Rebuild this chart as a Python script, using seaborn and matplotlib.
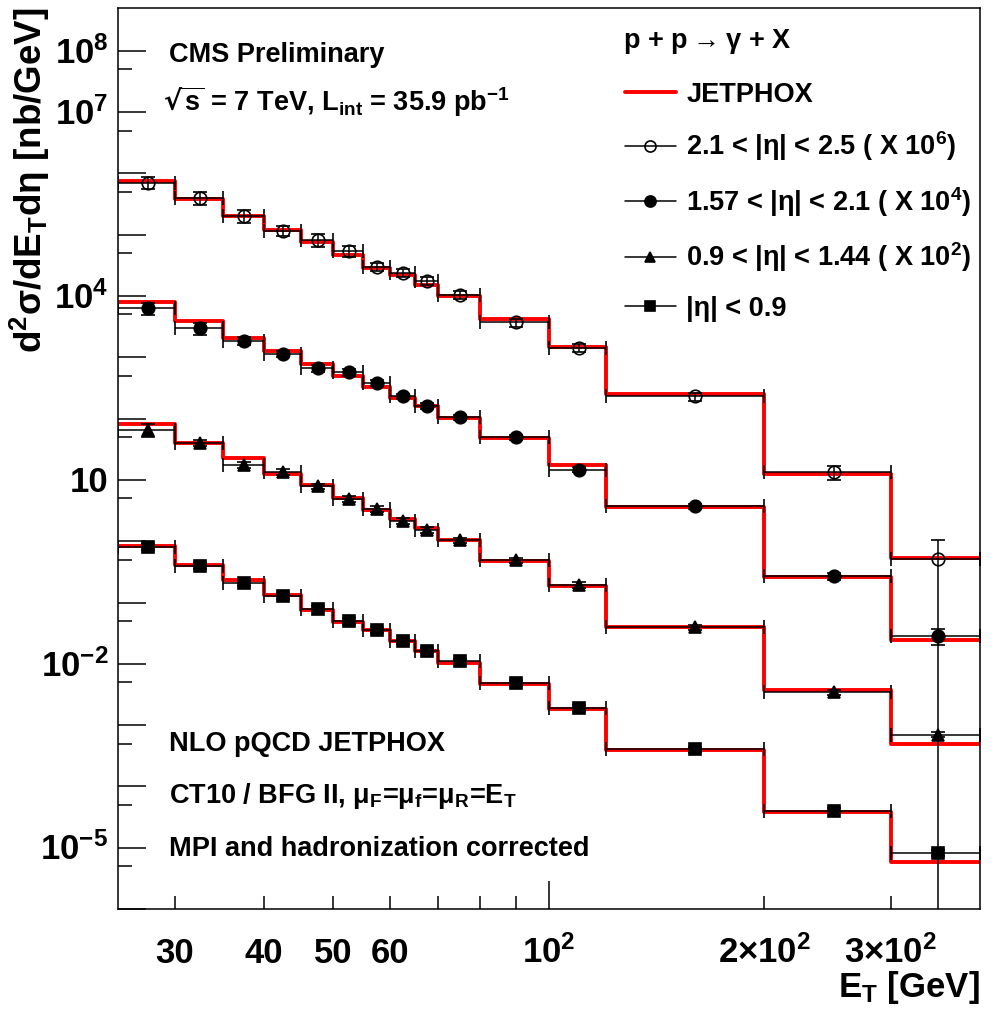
import numpy as np
import pandas as pd
import matplotlib
matplotlib.use("Agg")
import matplotlib.pyplot as plt
import matplotlib.transforms as mtransforms
from matplotlib.lines import Line2D
from matplotlib.ticker import NullFormatter
import seaborn as sns

# E_T bin edges [GeV]
et_edges = [25, 30, 35, 40, 45, 50, 55, 60, 65, 70, 80, 100, 120, 200, 300, 400]

# Measured isolated-photon cross sections d2sigma/dEt deta [nb/GeV]
xs_eta_21_25 = [0.711, 0.405, 0.204, 0.117, 0.0827, 0.0547, 0.0303, 0.0242, 0.0177,
                0.0105, 0.00371, 0.00142, 2.30e-4, 1.34e-5, 5.2e-7]
xs_eta_157_21 = [0.635, 0.300, 0.188, 0.114, 0.0667, 0.0566, 0.0380, 0.0230, 0.0162,
                 0.0106, 0.00500, 0.00147, 3.70e-4, 2.67e-5, 2.87e-6]
xs_eta_09_144 = [0.658, 0.399, 0.177, 0.137, 0.0783, 0.0488, 0.0335, 0.0216, 0.0154,
                 0.0103, 0.00486, 0.00195, 3.93e-4, 3.42e-5, 6.98e-6]
xs_eta_00_09 = [0.81, 0.398, 0.208, 0.129, 0.0793, 0.0505, 0.0351, 0.0232, 0.0164,
                0.0110, 0.00490, 0.00190, 4.07e-4, 4.02e-5, 8.2e-6]

# Relative total uncertainties of the measurement
err_eta_21_25 = [0.22, 0.25, 0.25, 0.20, 0.25, 0.20, 0.15, 0.15, 0.15, 0.15, 0.15, 0.15, 0.15, 0.25, 1.0]
err_eta_157_21 = [0.23, 0.22, 0.15, 0.12, 0.12, 0.12, 0.12, 0.10, 0.10, 0.10, 0.10, 0.10, 0.10, 0.12, 0.30]
err_eta_09_144 = [0.23, 0.12, 0.12, 0.12, 0.10, 0.10, 0.10, 0.10, 0.10, 0.10, 0.10, 0.10, 0.10, 0.10, 0.10]
err_eta_00_09 = [0.10, 0.10, 0.10, 0.10, 0.10, 0.10, 0.10, 0.10, 0.10, 0.10, 0.10, 0.10, 0.10, 0.10, 0.10]

# NLO JETPHOX predictions [nb/GeV]
nlo_eta_21_25 = [0.759, 0.380, 0.204, 0.120, 0.0759, 0.0471, 0.0292, 0.0222, 0.0152,
                 0.0101, 0.00421, 0.00147, 2.51e-4, 1.26e-5, 5.4e-7]
nlo_eta_157_21 = [0.785, 0.385, 0.206, 0.1245, 0.0776, 0.0488, 0.0327, 0.0216, 0.0159,
                  0.0102, 0.00482, 0.00177, 3.56e-4, 2.57e-5, 2.47e-6]
nlo_eta_09_144 = [0.815, 0.398, 0.228, 0.1245, 0.0813, 0.0506, 0.0327, 0.0230, 0.0164,
                  0.0103, 0.00468, 0.00188, 3.93e-4, 3.80e-5, 4.92e-6]
nlo_eta_00_09 = [0.843, 0.413, 0.236, 0.131, 0.0762, 0.0473, 0.0351, 0.0232, 0.0160,
                 0.0105, 0.00468, 0.00183, 3.89e-4, 3.80e-5, 5.75e-6]

region_labels = ["2.1 < |η| < 2.5 ( X 10$^{6}$)",
                 "1.57 < |η| < 2.1 ( X 10$^{4}$)",
                 "0.9 < |η| < 1.44 ( X 10$^{2}$)",
                 "|η| < 0.9"]
scale_factors = [1e6, 1e4, 1e2, 1.0]

ytick_values = [1e8, 1e7, 1e4, 1e1, 1e-2, 1e-5]
ytick_labels = ["10$^{8}$", "10$^{7}$", "10$^{4}$", "10", "10$^{-2}$", "10$^{-5}$"]
xtick_values = [30, 40, 50, 60, 70, 80, 90, 200, 300]
xtick_labels = ["30", "40", "50", "60", "", "", "", "2×10$^{2}$", "3×10$^{2}$"]

measured = [xs_eta_21_25, xs_eta_157_21, xs_eta_09_144, xs_eta_00_09]
uncert = [err_eta_21_25, err_eta_157_21, err_eta_09_144, err_eta_00_09]
theory = [nlo_eta_21_25, nlo_eta_157_21, nlo_eta_09_144, nlo_eta_00_09]
markers = ["o", "o", "^", "s"]
marker_faces = ["none", "black", "black", "black"]
marker_sizes = [9.0, 9.0, 8.5, 8.5]

sns.set_theme(style="ticks")
plt.rcParams.update({
    "font.family": ["Liberation Sans", "DejaVu Sans"],
    "font.weight": "bold",
    "mathtext.default": "regular",
    "text.color": "black",
    "axes.edgecolor": "black",
    "axes.linewidth": 1.1,
    "xtick.color": "black",
    "ytick.color": "black",
    "xtick.direction": "in",
    "ytick.direction": "in",
})

fig = plt.figure(figsize=(9.96, 10.09), dpi=100)
fig.patch.set_facecolor("white")
ax = fig.add_axes([118 / 996, 1 - 909 / 1009, (980 - 118) / 996, (909 - 8) / 1009])
ax.set_facecolor("white")
ax.set_xscale("log")
ax.set_yscale("log")

edges = np.asarray(et_edges, dtype=float)
centers = 0.5 * (edges[:-1] + edges[1:])

# theory histograms as step lines
rows = []
for name, scale, th in zip(region_labels, scale_factors, theory):
    vals = np.asarray(th) * scale
    steps = np.append(vals, vals[-1])
    for e, v in zip(edges, steps):
        rows.append({"region": name, "et": e, "xsec": v})
theory_df = pd.DataFrame(rows)
sns.lineplot(data=theory_df, x="et", y="xsec", units="region", estimator=None,
             color="#ff0000", lw=2.8, drawstyle="steps-post", sort=False,
             legend=False, ax=ax, zorder=2)

# measured points with bin-width and uncertainty bars
for vals, err, scale, mk, mfc, ms in zip(measured, uncert, scale_factors,
                                         markers, marker_faces, marker_sizes):
    y = np.asarray(vals) * scale
    dy = y * np.asarray(err)
    ax.errorbar(centers, y,
                xerr=[centers - edges[:-1], edges[1:] - centers],
                yerr=[dy, dy], fmt=mk, color="black", mfc=mfc, mec="black",
                mew=1.2, ms=ms, elinewidth=1.1, capsize=5, capthick=1.1,
                zorder=3)

# axes ticks
major_y = 10.0 ** np.arange(-6, 9)
ylab = {v: l for v, l in zip(ytick_values, ytick_labels)}
ax.set_yticks(major_y, [ylab.get(v, "") for v in major_y])
ax.set_yticks(5 * 10.0 ** np.arange(-6, 8), minor=True)
ax.yaxis.set_minor_formatter(NullFormatter())
ax.set_xticks([100], ["10$^{2}$"])
ax.set_xticks(xtick_values, xtick_labels, minor=True)
ax.set_xlabel("")
ax.set_ylabel("")
ax.set_xlim(25, 400)
ax.set_ylim(1e-6, 5e8)

ax.tick_params(axis="y", which="major", length=20, width=1.1, labelsize=25, pad=7,
               left=True, right=False)
ax.tick_params(axis="y", which="minor", length=10, width=1.1, left=True, right=False)
ax.tick_params(axis="x", which="major", length=20, width=1.1, labelsize=25, pad=39,
               bottom=True, top=False)
ax.tick_params(axis="x", which="minor", length=9.5, width=1.1, labelsize=25, pad=39,
               bottom=True, top=False)

shift = mtransforms.ScaledTranslation(0, -9.0 / 72, fig.dpi_scale_trans)
for lab in ax.get_yticklabels():
    lab.set_verticalalignment("baseline")
    lab.set_transform(lab.get_transform() + shift)
for lab in ax.get_xticklabels(which="both"):
    lab.set_verticalalignment("baseline")

for side in ("left", "right", "top", "bottom"):
    ax.spines[side].set_visible(True)
    ax.spines[side].set_color("black")
    ax.spines[side].set_linewidth(1.1)

# axis titles
fig.text(30 / 996, 1 - 7 / 1009, "d$^{2}$σ/dE$_{T}$dη [nb/GeV]", rotation=90,
         ha="center", va="top", fontsize=26.5, fontweight="bold")
fig.text(980 / 996, 1 - 997 / 1009, "E$_{T}$ [GeV]", ha="right", va="baseline",
         fontsize=25, fontweight="bold")

# annotations
tfs = 19.5
ax.text(0.0592, 0.9404, "CMS Preliminary", transform=ax.transAxes, fontsize=tfs,
        ha="left", va="baseline")
ax.text(0.052, 0.8857, r"$\sqrt{s}$ = 7 TeV, L$_{int}$ = 35.9 pb$^{-1}$",
        transform=ax.transAxes, fontsize=tfs, ha="left", va="baseline")
ax.text(0.586, 0.956, r"p + p$\rightarrow$γ + X", transform=ax.transAxes,
        fontsize=tfs, ha="left", va="baseline")
ax.text(0.0592, 0.1757, "NLO pQCD JETPHOX", transform=ax.transAxes, fontsize=tfs,
        ha="left", va="baseline")
ax.text(0.0592, 0.118, "CT10 / BFG II, μ$_{F}$=μ$_{f}$=μ$_{R}$=E$_{T}$",
        transform=ax.transAxes, fontsize=tfs, ha="left", va="baseline")
ax.text(0.0592, 0.0588, "MPI and hadronization corrected", transform=ax.transAxes,
        fontsize=tfs, ha="left", va="baseline")

# legend
handles = [Line2D([], [], color="#ff0000", lw=2.8)]
for mk, mfc, ms in zip(markers, marker_faces, marker_sizes):
    handles.append(Line2D([], [], color="black", lw=1.1, marker=mk, mfc=mfc,
                          mec="black", mew=1.2, ms=ms - 1.0))
ax.legend(handles, ["JETPHOX"] + region_labels, loc="upper left",
          bbox_to_anchor=(0.588, 0.918), frameon=False, fontsize=tfs,
          handlelength=1.87, handletextpad=0.4, labelspacing=0.8,
          borderpad=0, borderaxespad=0)

fig.savefig("out.png", dpi=100, facecolor="white")
